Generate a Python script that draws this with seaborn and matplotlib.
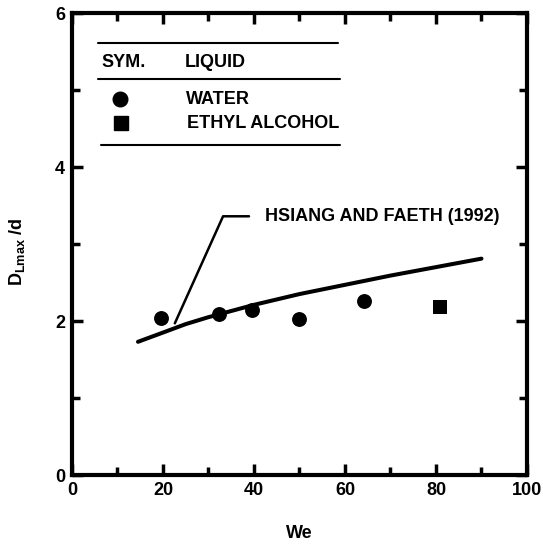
import matplotlib
matplotlib.use("Agg")
import matplotlib.pyplot as plt
import seaborn as sns
import pandas as pd

# ---- data ----
water_we = [19.6, 32.4, 39.6, 49.9, 64.2]
water_d = [2.04, 2.09, 2.14, 2.03, 2.26]
ethanol_we = [80.9]
ethanol_d = [2.18]
corr_we = [14.5, 20, 25, 30, 40, 50, 60, 70, 80, 90]
corr_d = [1.73, 1.85, 1.96, 2.05, 2.21, 2.35, 2.47, 2.59, 2.70, 2.81]
corr_label = "HSIANG AND FAETH (1992)"
legend_header = ["SYM.", "LIQUID"]
liquids = ["WATER", "ETHYL ALCOHOL"]
x_ticks = [0, 20, 40, 60, 80, 100]
y_ticks = [0, 2, 4, 6]

sns.set_theme(style="white")
plt.rcParams["font.family"] = ["Liberation Sans", "DejaVu Sans"]
plt.rcParams["font.weight"] = "bold"
plt.rcParams["text.color"] = "black"
plt.rcParams["axes.labelcolor"] = "black"
plt.rcParams["xtick.color"] = "black"
plt.rcParams["ytick.color"] = "black"
plt.rcParams["mathtext.fontset"] = "custom"
plt.rcParams["mathtext.rm"] = "Liberation Sans:bold"
plt.rcParams["mathtext.bf"] = "Liberation Sans:bold"
plt.rcParams["mathtext.it"] = "Liberation Sans:bold"

FS = 13

fig = plt.figure(figsize=(5.43, 5.44), dpi=100)
ax = fig.add_axes([0.1326, 0.1268, 0.8379, 0.8493])

df_w = pd.DataFrame({"We": water_we, "D": water_d})
df_e = pd.DataFrame({"We": ethanol_we, "D": ethanol_d})
df_c = pd.DataFrame({"We": corr_we, "D": corr_d})

sns.lineplot(data=df_c, x="We", y="D", color="black", linewidth=2.9, ax=ax)
sns.scatterplot(data=df_w, x="We", y="D", marker="o", color="black", s=115,
                edgecolor="black", linewidth=0, ax=ax, zorder=3)
sns.scatterplot(data=df_e, x="We", y="D", marker="s", color="black", s=100,
                edgecolor="black", linewidth=0, ax=ax, zorder=3)

# annotation leader and label
ax.plot([22.6, 33.2, 38.9], [1.97, 3.36, 3.36], color="black", lw=1.8)
ax.text(42.4, 3.36, corr_label, fontsize=FS, fontweight="bold", va="center", ha="left")

# manual legend table
ax.plot([5.8, 58.5], [5.61, 5.61], color="black", lw=1.5)
ax.plot([5.7, 58.9], [5.14, 5.14], color="black", lw=1.5)
ax.plot([6.3, 59.0], [4.29, 4.29], color="black", lw=1.5)
ax.text(6.5, 5.36, legend_header[0], fontsize=FS, fontweight="bold", va="center")
ax.text(24.8, 5.36, legend_header[1], fontsize=FS, fontweight="bold", va="center")
ax.plot([10.5], [4.88], marker="o", color="black", markersize=10.5, linestyle="none")
ax.plot([10.7], [4.57], marker="s", color="black", markersize=9.5, linestyle="none")
ax.text(25.1, 4.88, liquids[0], fontsize=FS, fontweight="bold", va="center")
ax.text(25.2, 4.57, liquids[1], fontsize=FS, fontweight="bold", va="center")

ax.set_xlim(0, 100)
ax.set_ylim(0, 6)
ax.set_xticks(x_ticks)
ax.set_xticks(range(10, 100, 20), minor=True)
ax.set_yticks(y_ticks)
ax.set_yticks([1, 3, 5], minor=True)
ax.set_xticklabels([str(t) for t in x_ticks], fontsize=FS, fontweight="bold")
ax.set_yticklabels([str(t) for t in y_ticks], fontsize=FS, fontweight="bold")
ax.tick_params(which="major", direction="in", length=8, width=2.5,
               bottom=True, left=True, top=True, right=True,
               pad=5, labeltop=False, labelright=False, color="black", labelcolor="black")
ax.tick_params(which="minor", direction="in", length=6, width=2.5,
               bottom=True, left=True, top=True, right=True, color="black")
for sp in ax.spines.values():
    sp.set_linewidth(3)
    sp.set_color("black")

ax.set_xlabel("We", fontsize=FS, fontweight="bold")
ax.set_ylabel(r"D$_{\mathrm{Lmax}}$ /d", fontsize=FS, fontweight="bold")
ax.xaxis.label.set_va("center")
ax.xaxis.set_label_coords(0.5, -0.126)
ax.yaxis.set_label_coords(-0.099, 0.483)
ax.grid(False)

fig.savefig("out.png", dpi=100)
